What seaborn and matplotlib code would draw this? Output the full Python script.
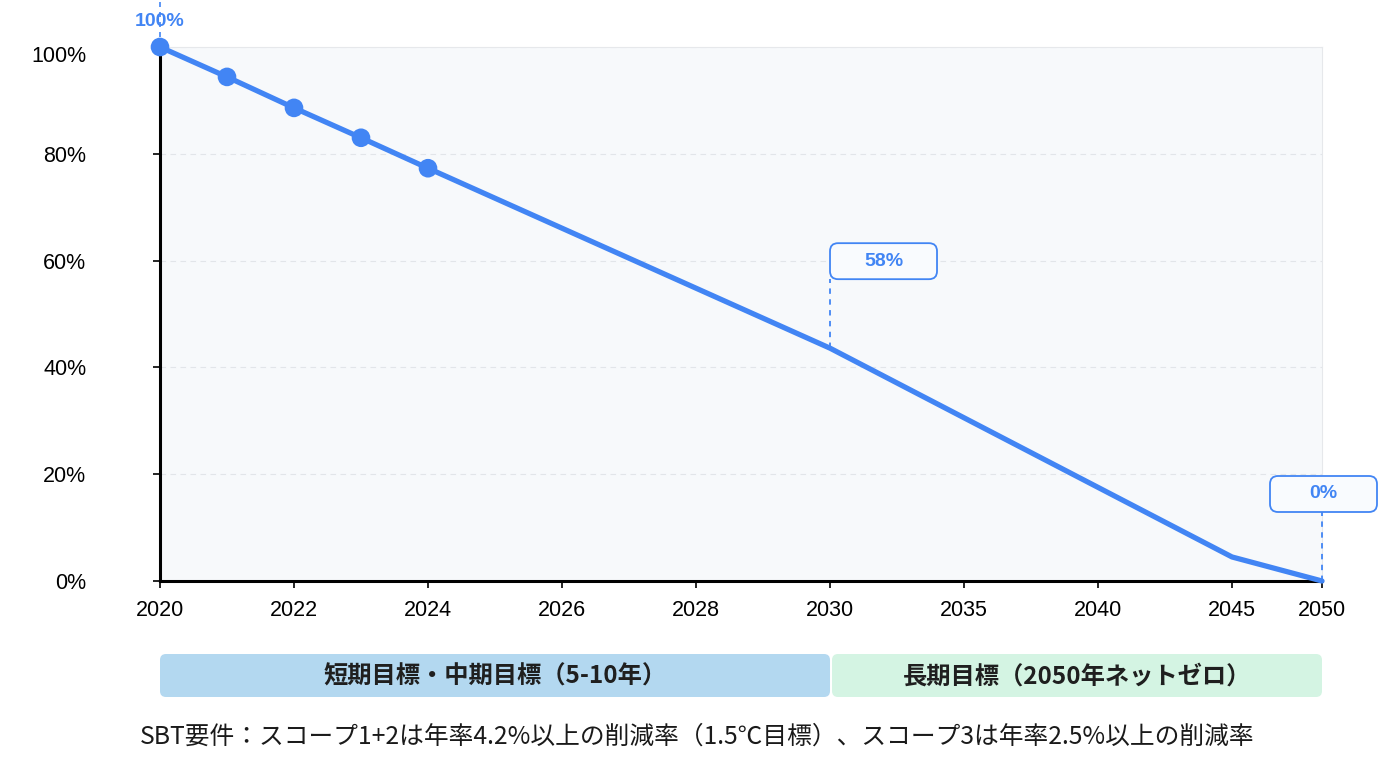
import matplotlib
matplotlib.use('Agg')
import pandas as pd
import matplotlib.pyplot as plt
import matplotlib.transforms as mtransforms
from matplotlib.patches import FancyBboxPatch
import seaborn as sns

# データ
years = [2020, 2021, 2022, 2023, 2024, 2030, 2045, 2050]
remaining = [100, 94.4, 88.6, 83.0, 77.3, 43.6, 4.5, 0]
actual_years = [2020, 2021, 2022, 2023, 2024]
tick_years = [2020, 2022, 2024, 2026, 2028, 2030, 2035, 2040, 2045, 2050]
y_ticks = [0, 20, 40, 60, 80, 100]
callouts = [(2030, '58%'), (2050, '0%')]
phase_labels = ['短期目標・中期目標（5-10年）', '長期目標（2050年ネットゼロ）']
phase_spans = [(2020, 2030), (2030, 2050)]
phase_colors = ['#b3d8f0', '#d4f4e3']
note = 'SBT要件：スコープ1+2は年率4.2%以上の削減率（1.5℃目標）、スコープ3は年率2.5%以上の削減率'

BLUE = '#4285f4'
JP = ['Noto Sans CJK JP', 'DejaVu Sans']


# x軸は2030年までは1年刻み、それ以降は圧縮
def year_pos(y):
    if y <= 2030:
        return y - 2020
    if y <= 2045:
        return 10 + (y - 2030) * 0.4
    return 16 + (y - 2045) * 0.2686


df = pd.DataFrame({'year': years, 'remaining': remaining})
df['pos'] = df['year'].map(year_pos)
df_actual = df[df['year'].isin(actual_years)]

sns.set_theme(style='white')
plt.rcParams['font.family'] = ['Liberation Sans', 'Noto Sans CJK JP']

W, H = 1400, 773
fig = plt.figure(figsize=(W / 100, H / 100), dpi=100)
ax = fig.add_axes([160 / W, 1 - 581 / H, (1322 - 160) / W, (581 - 47) / H])
ax.set_facecolor('#f7f9fb')

sns.lineplot(data=df, x='pos', y='remaining', color=BLUE, lw=3.8, ax=ax,
             clip_on=False, zorder=3)
sns.scatterplot(data=df_actual, x='pos', y='remaining', s=180, color=BLUE,
                edgecolor='none', ax=ax, clip_on=False, zorder=4)

ax.set_xlim(0, year_pos(2050))
ax.set_ylim(0, 100)
ax.set_xticks([year_pos(y) for y in tick_years])
ax.set_xticklabels([str(y) for y in tick_years])
ax.set_yticks(y_ticks)
ax.set_yticklabels([f'{v}%' for v in y_ticks])
ax.set_xlabel('')
ax.set_ylabel('')
ax.yaxis.grid(True, color='#e2e5e9', ls=(0, (5, 4)), lw=0.8)
ax.set_axisbelow(True)

for side in ['left', 'bottom']:
    ax.spines[side].set_color('black')
    ax.spines[side].set_linewidth(2.2)
for side in ['top', 'right']:
    ax.spines[side].set_color('#e6e8eb')
    ax.spines[side].set_linewidth(0.8)

ax.tick_params(axis='x', length=5, width=1.2, color='black', labelsize=15.5,
               labelcolor='black', pad=9, bottom=True)
ax.tick_params(axis='y', length=5, width=1.2, color='black', labelsize=15.5,
               labelcolor='black', pad=48, left=True)
for lbl in ax.get_yticklabels():
    if lbl.get_text() == '100%':
        lbl.set_transform(lbl.get_transform() +
                          mtransforms.ScaledTranslation(0, -0.07, fig.dpi_scale_trans))

# 注記（データ点から画素単位でずらす）
def px_at(x, y):
    return mtransforms.Affine2D() + mtransforms.ScaledTranslation(x, y, ax.transData)


top = df[df['year'] == 2020].iloc[0]
t0 = px_at(top['pos'], top['remaining'])
ax.plot([0, 0], [0, 48], transform=t0, color=BLUE, lw=1.2, ls=(0, (3, 3)),
        clip_on=False, zorder=3)
ax.text(0, 25, '100%', transform=t0, ha='center', va='center', fontsize=14,
        fontweight='bold', color=BLUE, clip_on=False, zorder=5)

for yr, txt in callouts:
    row = df[df['year'] == yr].iloc[0]
    t = px_at(row['pos'], row['remaining'])
    left = 0 if yr < 2050 else -52
    ax.plot([0, 0], [0, 69], transform=t, color=BLUE, lw=1.3, ls=(0, (3, 3)),
            clip_on=False, zorder=3)
    box = FancyBboxPatch((left, 69), 107, 36,
                         boxstyle='round,pad=0,rounding_size=8',
                         transform=t, facecolor='#f9fbfe', edgecolor=BLUE,
                         lw=1.3, clip_on=False, zorder=5)
    ax.add_artist(box)
    ax.text(left + 53.5, 87, txt, transform=t, ha='center', va='center',
            fontsize=14, fontweight='bold', color=BLUE, clip_on=False, zorder=6)

# 期間ラベル（図の下）
pix = mtransforms.IdentityTransform()
for (y0, y1), lab, col in zip(phase_spans, phase_labels, phase_colors):
    x0 = ax.transData.transform((year_pos(y0), 0))[0]
    x1 = ax.transData.transform((year_pos(y1), 0))[0]
    if y0 > 2020:
        x0 += 2
    patch = FancyBboxPatch((x0, 76), x1 - x0, 43,
                           boxstyle='round,pad=0,rounding_size=6',
                           transform=pix, facecolor=col, edgecolor='none')
    fig.add_artist(patch)
    fig.text((x0 + x1) / 2 / W, 96 / H, lab, ha='center', va='center',
             fontsize=17.5, fontweight='bold', color='#1f1f1f', family=JP)

fig.text(697 / W, 36 / H, note, ha='center', va='center', fontsize=17.8,
         color='#1a1a1a', family=JP)

fig.savefig('out.png', dpi=100)
